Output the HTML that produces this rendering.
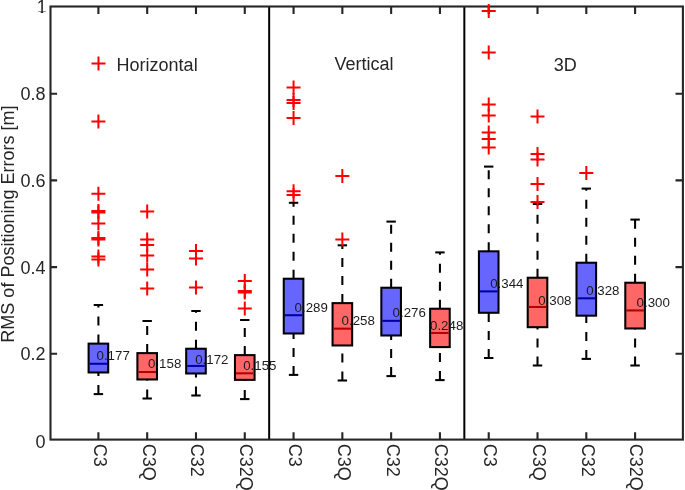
<!DOCTYPE html>
<html><head><meta charset="utf-8"><title>RMS of Positioning Errors</title>
<style>html,body{margin:0;padding:0;background:#fff;}svg{display:block;will-change:transform;}text{font-family:"Liberation Sans",Arial,sans-serif;}</style></head><body>
<svg width="685" height="490" viewBox="0 0 685 490">
<rect x="0" y="0" width="685" height="490" fill="#fff"/>
<line x1="98.40" y1="343.62" x2="98.40" y2="305.00" stroke="#000" stroke-width="2.05" stroke-dasharray="9 9"/>
<line x1="98.40" y1="394.10" x2="98.40" y2="372.48" stroke="#000" stroke-width="2.05" stroke-dasharray="9 9"/>
<line x1="93.70" y1="305.00" x2="103.10" y2="305.00" stroke="#000" stroke-width="2.05"/>
<line x1="93.70" y1="394.10" x2="103.10" y2="394.10" stroke="#000" stroke-width="2.05"/>
<rect x="88.60" y="343.62" width="19.60" height="28.85" fill="#6666ff" stroke="#000" stroke-width="2.05"/>
<line x1="89.63" y1="363.77" x2="107.17" y2="363.77" stroke="#0000a0" stroke-width="2.05"/>
<line x1="147.19" y1="353.12" x2="147.19" y2="321.00" stroke="#000" stroke-width="2.05" stroke-dasharray="9 9"/>
<line x1="147.19" y1="398.50" x2="147.19" y2="379.48" stroke="#000" stroke-width="2.05" stroke-dasharray="9 9"/>
<line x1="142.49" y1="321.00" x2="151.89" y2="321.00" stroke="#000" stroke-width="2.05"/>
<line x1="142.49" y1="398.50" x2="151.89" y2="398.50" stroke="#000" stroke-width="2.05"/>
<rect x="137.39" y="353.12" width="19.60" height="26.35" fill="#ff6666" stroke="#000" stroke-width="2.05"/>
<line x1="138.41" y1="372.01" x2="155.97" y2="372.01" stroke="#b00000" stroke-width="2.05"/>
<line x1="195.98" y1="348.73" x2="195.98" y2="311.00" stroke="#000" stroke-width="2.05" stroke-dasharray="9 9"/>
<line x1="195.98" y1="395.50" x2="195.98" y2="373.48" stroke="#000" stroke-width="2.05" stroke-dasharray="9 9"/>
<line x1="191.28" y1="311.00" x2="200.68" y2="311.00" stroke="#000" stroke-width="2.05"/>
<line x1="191.28" y1="395.50" x2="200.68" y2="395.50" stroke="#000" stroke-width="2.05"/>
<rect x="186.18" y="348.73" width="19.60" height="24.75" fill="#6666ff" stroke="#000" stroke-width="2.05"/>
<line x1="187.21" y1="365.94" x2="204.76" y2="365.94" stroke="#0000a0" stroke-width="2.05"/>
<line x1="244.77" y1="355.12" x2="244.77" y2="320.00" stroke="#000" stroke-width="2.05" stroke-dasharray="9 9"/>
<line x1="244.77" y1="399.10" x2="244.77" y2="379.88" stroke="#000" stroke-width="2.05" stroke-dasharray="9 9"/>
<line x1="240.07" y1="320.00" x2="249.47" y2="320.00" stroke="#000" stroke-width="2.05"/>
<line x1="240.07" y1="399.10" x2="249.47" y2="399.10" stroke="#000" stroke-width="2.05"/>
<rect x="234.97" y="355.12" width="19.60" height="24.75" fill="#ff6666" stroke="#000" stroke-width="2.05"/>
<line x1="236.00" y1="373.31" x2="253.55" y2="373.31" stroke="#b00000" stroke-width="2.05"/>
<line x1="293.56" y1="278.73" x2="293.56" y2="202.80" stroke="#000" stroke-width="2.05" stroke-dasharray="9 9"/>
<line x1="293.56" y1="374.90" x2="293.56" y2="333.48" stroke="#000" stroke-width="2.05" stroke-dasharray="9 9"/>
<line x1="288.86" y1="202.80" x2="298.26" y2="202.80" stroke="#000" stroke-width="2.05"/>
<line x1="288.86" y1="374.90" x2="298.26" y2="374.90" stroke="#000" stroke-width="2.05"/>
<rect x="283.76" y="278.73" width="19.60" height="54.75" fill="#6666ff" stroke="#000" stroke-width="2.05"/>
<line x1="284.78" y1="315.22" x2="302.34" y2="315.22" stroke="#0000a0" stroke-width="2.05"/>
<line x1="342.35" y1="303.12" x2="342.35" y2="245.30" stroke="#000" stroke-width="2.05" stroke-dasharray="9 9"/>
<line x1="342.35" y1="380.50" x2="342.35" y2="345.48" stroke="#000" stroke-width="2.05" stroke-dasharray="9 9"/>
<line x1="337.65" y1="245.30" x2="347.05" y2="245.30" stroke="#000" stroke-width="2.05"/>
<line x1="337.65" y1="380.50" x2="347.05" y2="380.50" stroke="#000" stroke-width="2.05"/>
<rect x="332.55" y="303.12" width="19.60" height="42.35" fill="#ff6666" stroke="#000" stroke-width="2.05"/>
<line x1="333.57" y1="328.66" x2="351.13" y2="328.66" stroke="#b00000" stroke-width="2.05"/>
<line x1="391.14" y1="287.73" x2="391.14" y2="221.60" stroke="#000" stroke-width="2.05" stroke-dasharray="9 9"/>
<line x1="391.14" y1="376.10" x2="391.14" y2="335.48" stroke="#000" stroke-width="2.05" stroke-dasharray="9 9"/>
<line x1="386.44" y1="221.60" x2="395.84" y2="221.60" stroke="#000" stroke-width="2.05"/>
<line x1="386.44" y1="376.10" x2="395.84" y2="376.10" stroke="#000" stroke-width="2.05"/>
<rect x="381.34" y="287.73" width="19.60" height="47.75" fill="#6666ff" stroke="#000" stroke-width="2.05"/>
<line x1="382.36" y1="320.85" x2="399.92" y2="320.85" stroke="#0000a0" stroke-width="2.05"/>
<line x1="439.93" y1="308.73" x2="439.93" y2="252.40" stroke="#000" stroke-width="2.05" stroke-dasharray="9 9"/>
<line x1="439.93" y1="380.10" x2="439.93" y2="347.08" stroke="#000" stroke-width="2.05" stroke-dasharray="9 9"/>
<line x1="435.23" y1="252.40" x2="444.63" y2="252.40" stroke="#000" stroke-width="2.05"/>
<line x1="435.23" y1="380.10" x2="444.63" y2="380.10" stroke="#000" stroke-width="2.05"/>
<rect x="430.13" y="308.73" width="19.60" height="38.35" fill="#ff6666" stroke="#000" stroke-width="2.05"/>
<line x1="431.15" y1="332.99" x2="448.70" y2="332.99" stroke="#b00000" stroke-width="2.05"/>
<line x1="488.72" y1="251.32" x2="488.72" y2="166.60" stroke="#000" stroke-width="2.05" stroke-dasharray="9 9"/>
<line x1="488.72" y1="358.00" x2="488.72" y2="312.78" stroke="#000" stroke-width="2.05" stroke-dasharray="9 9"/>
<line x1="484.02" y1="166.60" x2="493.42" y2="166.60" stroke="#000" stroke-width="2.05"/>
<line x1="484.02" y1="358.00" x2="493.42" y2="358.00" stroke="#000" stroke-width="2.05"/>
<rect x="478.92" y="251.32" width="19.60" height="61.45" fill="#6666ff" stroke="#000" stroke-width="2.05"/>
<line x1="479.94" y1="291.38" x2="497.50" y2="291.38" stroke="#0000a0" stroke-width="2.05"/>
<line x1="537.51" y1="277.73" x2="537.51" y2="204.00" stroke="#000" stroke-width="2.05" stroke-dasharray="9 9"/>
<line x1="537.51" y1="365.50" x2="537.51" y2="327.18" stroke="#000" stroke-width="2.05" stroke-dasharray="9 9"/>
<line x1="532.81" y1="204.00" x2="542.21" y2="204.00" stroke="#000" stroke-width="2.05"/>
<line x1="532.81" y1="365.50" x2="542.21" y2="365.50" stroke="#000" stroke-width="2.05"/>
<rect x="527.71" y="277.73" width="19.60" height="49.45" fill="#ff6666" stroke="#000" stroke-width="2.05"/>
<line x1="528.74" y1="306.98" x2="546.28" y2="306.98" stroke="#b00000" stroke-width="2.05"/>
<line x1="586.30" y1="262.73" x2="586.30" y2="188.60" stroke="#000" stroke-width="2.05" stroke-dasharray="9 9"/>
<line x1="586.30" y1="358.90" x2="586.30" y2="315.68" stroke="#000" stroke-width="2.05" stroke-dasharray="9 9"/>
<line x1="581.60" y1="188.60" x2="591.00" y2="188.60" stroke="#000" stroke-width="2.05"/>
<line x1="581.60" y1="358.90" x2="591.00" y2="358.90" stroke="#000" stroke-width="2.05"/>
<rect x="576.50" y="262.73" width="19.60" height="52.95" fill="#6666ff" stroke="#000" stroke-width="2.05"/>
<line x1="577.52" y1="298.31" x2="595.07" y2="298.31" stroke="#0000a0" stroke-width="2.05"/>
<line x1="635.09" y1="282.73" x2="635.09" y2="219.60" stroke="#000" stroke-width="2.05" stroke-dasharray="9 9"/>
<line x1="635.09" y1="365.50" x2="635.09" y2="328.48" stroke="#000" stroke-width="2.05" stroke-dasharray="9 9"/>
<line x1="630.39" y1="219.60" x2="639.79" y2="219.60" stroke="#000" stroke-width="2.05"/>
<line x1="630.39" y1="365.50" x2="639.79" y2="365.50" stroke="#000" stroke-width="2.05"/>
<rect x="625.29" y="282.73" width="19.60" height="45.75" fill="#ff6666" stroke="#000" stroke-width="2.05"/>
<line x1="626.31" y1="310.45" x2="643.86" y2="310.45" stroke="#b00000" stroke-width="2.05"/>
<line x1="269.16" y1="6.5" x2="269.16" y2="439.6" stroke="#000" stroke-width="2"/>
<line x1="464.33" y1="6.5" x2="464.33" y2="439.6" stroke="#000" stroke-width="2"/>
<rect x="50.5" y="6.5" width="632.40" height="433.10" fill="none" stroke="#262626" stroke-width="2.1"/>
<path d="M98.40 439.6V432.20000000000005M98.40 6.5V13.9" stroke="#262626" stroke-width="2.1"/>
<path d="M147.19 439.6V432.20000000000005M147.19 6.5V13.9" stroke="#262626" stroke-width="2.1"/>
<path d="M195.98 439.6V432.20000000000005M195.98 6.5V13.9" stroke="#262626" stroke-width="2.1"/>
<path d="M244.77 439.6V432.20000000000005M244.77 6.5V13.9" stroke="#262626" stroke-width="2.1"/>
<path d="M293.56 439.6V432.20000000000005M293.56 6.5V13.9" stroke="#262626" stroke-width="2.1"/>
<path d="M342.35 439.6V432.20000000000005M342.35 6.5V13.9" stroke="#262626" stroke-width="2.1"/>
<path d="M391.14 439.6V432.20000000000005M391.14 6.5V13.9" stroke="#262626" stroke-width="2.1"/>
<path d="M439.93 439.6V432.20000000000005M439.93 6.5V13.9" stroke="#262626" stroke-width="2.1"/>
<path d="M488.72 439.6V432.20000000000005M488.72 6.5V13.9" stroke="#262626" stroke-width="2.1"/>
<path d="M537.51 439.6V432.20000000000005M537.51 6.5V13.9" stroke="#262626" stroke-width="2.1"/>
<path d="M586.30 439.6V432.20000000000005M586.30 6.5V13.9" stroke="#262626" stroke-width="2.1"/>
<path d="M635.09 439.6V432.20000000000005M635.09 6.5V13.9" stroke="#262626" stroke-width="2.1"/>
<path d="M50.5 353.80H57.1M682.9 353.80H675.5" stroke="#262626" stroke-width="2.1"/>
<path d="M50.5 267.10H57.1M682.9 267.10H675.5" stroke="#262626" stroke-width="2.1"/>
<path d="M50.5 180.40H57.1M682.9 180.40H675.5" stroke="#262626" stroke-width="2.1"/>
<path d="M50.5 93.70H57.1M682.9 93.70H675.5" stroke="#262626" stroke-width="2.1"/>
<path d="M91.40 121.60H105.40M98.40 114.60V128.60" stroke="#ff0000" stroke-width="2.0" fill="none"/>
<path d="M91.40 193.80H105.40M98.40 186.80V200.80" stroke="#ff0000" stroke-width="2.0" fill="none"/>
<path d="M91.40 211.00H105.40M98.40 204.00V218.00" stroke="#ff0000" stroke-width="2.0" fill="none"/>
<path d="M91.40 212.50H105.40M98.40 205.50V219.50" stroke="#ff0000" stroke-width="2.0" fill="none"/>
<path d="M91.40 223.60H105.40M98.40 216.60V230.60" stroke="#ff0000" stroke-width="2.0" fill="none"/>
<path d="M91.40 238.00H105.40M98.40 231.00V245.00" stroke="#ff0000" stroke-width="2.0" fill="none"/>
<path d="M91.40 239.50H105.40M98.40 232.50V246.50" stroke="#ff0000" stroke-width="2.0" fill="none"/>
<path d="M91.40 256.40H105.40M98.40 249.40V263.40" stroke="#ff0000" stroke-width="2.0" fill="none"/>
<path d="M91.40 259.60H105.40M98.40 252.60V266.60" stroke="#ff0000" stroke-width="2.0" fill="none"/>
<path d="M140.19 211.60H154.19M147.19 204.60V218.60" stroke="#ff0000" stroke-width="2.0" fill="none"/>
<path d="M140.19 239.50H154.19M147.19 232.50V246.50" stroke="#ff0000" stroke-width="2.0" fill="none"/>
<path d="M140.19 245.00H154.19M147.19 238.00V252.00" stroke="#ff0000" stroke-width="2.0" fill="none"/>
<path d="M140.19 255.40H154.19M147.19 248.40V262.40" stroke="#ff0000" stroke-width="2.0" fill="none"/>
<path d="M140.19 269.60H154.19M147.19 262.60V276.60" stroke="#ff0000" stroke-width="2.0" fill="none"/>
<path d="M140.19 288.60H154.19M147.19 281.60V295.60" stroke="#ff0000" stroke-width="2.0" fill="none"/>
<path d="M188.98 251.00H202.98M195.98 244.00V258.00" stroke="#ff0000" stroke-width="2.0" fill="none"/>
<path d="M188.98 258.60H202.98M195.98 251.60V265.60" stroke="#ff0000" stroke-width="2.0" fill="none"/>
<path d="M188.98 287.40H202.98M195.98 280.40V294.40" stroke="#ff0000" stroke-width="2.0" fill="none"/>
<path d="M237.77 281.00H251.77M244.77 274.00V288.00" stroke="#ff0000" stroke-width="2.0" fill="none"/>
<path d="M237.77 291.00H251.77M244.77 284.00V298.00" stroke="#ff0000" stroke-width="2.0" fill="none"/>
<path d="M237.77 292.60H251.77M244.77 285.60V299.60" stroke="#ff0000" stroke-width="2.0" fill="none"/>
<path d="M237.77 308.50H251.77M244.77 301.50V315.50" stroke="#ff0000" stroke-width="2.0" fill="none"/>
<path d="M286.56 87.60H300.56M293.56 80.60V94.60" stroke="#ff0000" stroke-width="2.0" fill="none"/>
<path d="M286.56 100.00H300.56M293.56 93.00V107.00" stroke="#ff0000" stroke-width="2.0" fill="none"/>
<path d="M286.56 103.00H300.56M293.56 96.00V110.00" stroke="#ff0000" stroke-width="2.0" fill="none"/>
<path d="M286.56 118.00H300.56M293.56 111.00V125.00" stroke="#ff0000" stroke-width="2.0" fill="none"/>
<path d="M286.56 191.30H300.56M293.56 184.30V198.30" stroke="#ff0000" stroke-width="2.0" fill="none"/>
<path d="M286.56 195.00H300.56M293.56 188.00V202.00" stroke="#ff0000" stroke-width="2.0" fill="none"/>
<path d="M335.35 176.00H349.35M342.35 169.00V183.00" stroke="#ff0000" stroke-width="2.0" fill="none"/>
<path d="M335.35 239.60H349.35M342.35 232.60V246.60" stroke="#ff0000" stroke-width="2.0" fill="none"/>
<path d="M481.72 11.00H495.72M488.72 4.00V18.00" stroke="#ff0000" stroke-width="2.0" fill="none"/>
<path d="M481.72 52.40H495.72M488.72 45.40V59.40" stroke="#ff0000" stroke-width="2.0" fill="none"/>
<path d="M481.72 104.40H495.72M488.72 97.40V111.40" stroke="#ff0000" stroke-width="2.0" fill="none"/>
<path d="M481.72 115.60H495.72M488.72 108.60V122.60" stroke="#ff0000" stroke-width="2.0" fill="none"/>
<path d="M481.72 132.60H495.72M488.72 125.60V139.60" stroke="#ff0000" stroke-width="2.0" fill="none"/>
<path d="M481.72 139.00H495.72M488.72 132.00V146.00" stroke="#ff0000" stroke-width="2.0" fill="none"/>
<path d="M481.72 147.40H495.72M488.72 140.40V154.40" stroke="#ff0000" stroke-width="2.0" fill="none"/>
<path d="M530.51 116.60H544.51M537.51 109.60V123.60" stroke="#ff0000" stroke-width="2.0" fill="none"/>
<path d="M530.51 154.00H544.51M537.51 147.00V161.00" stroke="#ff0000" stroke-width="2.0" fill="none"/>
<path d="M530.51 159.60H544.51M537.51 152.60V166.60" stroke="#ff0000" stroke-width="2.0" fill="none"/>
<path d="M530.51 184.00H544.51M537.51 177.00V191.00" stroke="#ff0000" stroke-width="2.0" fill="none"/>
<path d="M530.51 202.00H544.51M537.51 195.00V209.00" stroke="#ff0000" stroke-width="2.0" fill="none"/>
<path d="M579.30 173.00H593.30M586.30 166.00V180.00" stroke="#ff0000" stroke-width="2.0" fill="none"/>
<path d="M91.50 63.60H105.50M98.50 56.60V70.60" stroke="#ff0000" stroke-width="2.0" fill="none"/>
<text x="96.5" y="360.3" font-size="13.3" fill="#1c1c1c">0.177</text>
<text x="148.0" y="368.3" font-size="13.3" fill="#1c1c1c">0.158</text>
<text x="195.2" y="364.3" font-size="13.3" fill="#1c1c1c">0.172</text>
<text x="243.2" y="370.3" font-size="13.3" fill="#1c1c1c">0.155</text>
<text x="294.6" y="312.3" font-size="13.3" fill="#1c1c1c">0.289</text>
<text x="341.6" y="324.9" font-size="13.3" fill="#1c1c1c">0.258</text>
<text x="392.6" y="317.3" font-size="13.3" fill="#1c1c1c">0.276</text>
<text x="430.0" y="329.7" font-size="13.3" fill="#1c1c1c">0.248</text>
<text x="490.2" y="288.3" font-size="13.3" fill="#1c1c1c">0.344</text>
<text x="538.2" y="304.7" font-size="13.3" fill="#1c1c1c">0.308</text>
<text x="586.2" y="294.7" font-size="13.3" fill="#1c1c1c">0.328</text>
<text x="636.6" y="306.7" font-size="13.3" fill="#1c1c1c">0.300</text>
<text x="45.5" y="447.5" font-size="18.0" fill="#262626" text-anchor="end">0</text>
<text x="45.5" y="360.2" font-size="18.0" fill="#262626" text-anchor="end">0.2</text>
<text x="45.5" y="273.5" font-size="18.0" fill="#262626" text-anchor="end">0.4</text>
<text x="45.5" y="186.8" font-size="18.0" fill="#262626" text-anchor="end">0.6</text>
<text x="45.5" y="100.1" font-size="18.0" fill="#262626" text-anchor="end">0.8</text>
<clipPath id="one"><rect x="30" y="0" width="20" height="11.9"/><rect x="40.7" y="11.9" width="2.5" height="4"/></clipPath>
<text x="46.7" y="13.4" font-size="18.0" fill="#262626" text-anchor="end" clip-path="url(#one)">1</text>
<text transform="translate(93.80 443.8) rotate(90)" font-size="18.0" fill="#262626">C3</text>
<text transform="translate(142.59 443.8) rotate(90)" font-size="18.0" fill="#262626">C3Q</text>
<text transform="translate(191.38 443.8) rotate(90)" font-size="18.0" fill="#262626">C32</text>
<text transform="translate(240.17 443.8) rotate(90)" font-size="18.0" fill="#262626">C32Q</text>
<text transform="translate(288.96 443.8) rotate(90)" font-size="18.0" fill="#262626">C3</text>
<text transform="translate(337.75 443.8) rotate(90)" font-size="18.0" fill="#262626">C3Q</text>
<text transform="translate(386.54 443.8) rotate(90)" font-size="18.0" fill="#262626">C32</text>
<text transform="translate(435.33 443.8) rotate(90)" font-size="18.0" fill="#262626">C32Q</text>
<text transform="translate(484.12 443.8) rotate(90)" font-size="18.0" fill="#262626">C3</text>
<text transform="translate(532.91 443.8) rotate(90)" font-size="18.0" fill="#262626">C3Q</text>
<text transform="translate(581.70 443.8) rotate(90)" font-size="18.0" fill="#262626">C32</text>
<text transform="translate(630.49 443.8) rotate(90)" font-size="18.0" fill="#262626">C32Q</text>
<text transform="translate(14 224.1) rotate(-90)" font-size="18.0" fill="#262626" text-anchor="middle">RMS of Positioning Errors [m]</text>
<text x="116.6" y="71.0" font-size="18.0" fill="#262626">Horizontal</text>
<text x="334.6" y="70.2" font-size="18.0" fill="#262626">Vertical</text>
<text x="553.8" y="71.0" font-size="18.0" fill="#262626">3D</text>
</svg></body></html>
